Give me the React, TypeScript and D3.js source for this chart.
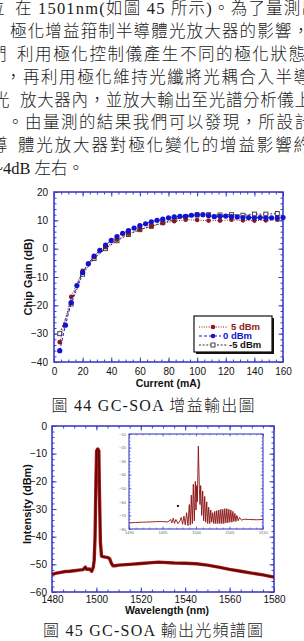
import React, { useEffect, useRef } from 'react';
import * as d3 from 'd3';

// ---- paragraph text (cropped scan of a thesis page) ----
const paraHeads = ['位', '的', '們', '後', '光', '察', '導', ''];
const paraLines = [
  '在 1501nm(如圖 45 所示)。為了量測出',
  '極化增益箝制半導體光放大器的影響，',
  '利用極化控制儀產生不同的極化狀態',
  '，再利用極化維持光纖將光耦合入半導',
  '放大器內，並放大輸出至光譜分析儀上',
  '。由量測的結果我們可以發現，所設計',
  '體光放大器對極化變化的增益影響約',
  '~4dB 左右。',
];
const caption44 = '圖 44 GC-SOA 增益輸出圖';
const caption45 = '圖 45 GC-SOA 輸出光頻譜圖';

// ---- Fig 44: chip gain vs current ----
const current5 = [4, 12, 20, 28, 36, 44, 52, 60, 68, 76, 84, 92, 100, 108, 116, 124, 132, 140, 148, 156];
const gain5 = [-33, -17, -7.8, -3, 0.5, 3.2, 5.3, 6.8, 7.9, 9, 9.7, 10.2, 10.1, 9.9, 9.9, 10.2, 10, 9.9, 10, 10.2];
const gainM5 = [-30, -19.5, -9, -3.5, 0, 2.8, 5, 6.7, 7.9, 9.2, 10.3, 11.3, 11.9, 12, 11.9, 12, 11.8, 12.2, 12.2, 12.4];
const current0 = [4, 8, 12, 16, 20, 24, 28, 32, 36, 40, 44, 48, 52, 56, 60, 64, 68, 72, 76, 80,
  84, 88, 92, 96, 100, 104, 108, 112, 116, 120, 124, 128, 132, 136, 140, 144, 148, 152, 156, 160];
const gain0 = [-36, -27, -19, -13, -8.4, -5.3, -2.6, -0.6, 1.3, 2.9, 4.3, 5.4, 6.4, 7.3, 8.1, 8.8, 9.5, 10, 10.4, 10.9,
  11.2, 11.4, 11.4, 11.8, 12, 12, 11.7, 11.3, 11.4, 11.5, 11.3, 11.2, 11, 11, 10.9, 11, 10.9, 10.9, 10.9, 11];
const gainTicks = [-40, -30, -20, -10, 0, 10, 20];
const currentTicks = [0, 20, 40, 60, 80, 100, 120, 140, 160];
const legendLabels = ['5 dBm', '0 dBm', '-5 dBm'];

// ---- Fig 45: output spectrum ----
const specWl = [1480, 1482, 1484, 1486, 1488, 1490, 1492, 1494, 1495, 1495.6, 1497, 1497.9, 1498.6, 1499, 1499.4,
  1499.8, 1500.1, 1500.6, 1501.1, 1501.4, 1501.8, 1502.3, 1503, 1504, 1505, 1506, 1506.6, 1507.4, 1508.5, 1510,
  1515, 1520, 1525, 1528, 1530, 1535, 1540, 1545, 1550, 1555, 1560, 1565, 1570, 1575, 1580];
const specDb = [-53.6, -53.2, -52.9, -52.6, -52.5, -52.3, -52.1, -51.9, -51, -51.8, -51.7, -52.5, -51, -48.5, -40,
  -20, -9, -8.3, -9, -25, -42, -47, -47.2, -47.4, -47.5, -48, -49.4, -50.5, -50.5, -50.3,
  -50, -49.7, -49.4, -49.2, -49.3, -49.5, -49.6, -49.8, -50.3, -51, -51.8, -52.5, -53.2, -53.8, -54.6];
const specTicksX = [1480, 1500, 1520, 1540, 1560, 1580];
const specTicksY = [-60, -50, -40, -30, -20, -10, 0];

// inset: zoom around the lasing line
const insetWl = [1490, 1491, 1492, 1493, 1494, 1495, 1495.8, 1496.2, 1496.4, 1496.6, 1496.8, 1497, 1497.3, 1497.6,
  1497.8, 1498, 1498.2, 1498.4, 1498.6, 1498.8, 1499, 1499.15, 1499.3, 1499.45, 1499.6, 1499.75, 1499.9, 1500,
  1500.1, 1500.2, 1500.35, 1500.5, 1500.6, 1500.7, 1500.85, 1501, 1501.15, 1501.3, 1501.45, 1501.6, 1501.75,
  1501.9, 1502.05, 1502.2, 1502.35, 1502.5, 1502.65, 1502.8, 1502.95, 1503.1, 1503.25, 1503.4, 1503.55, 1503.7,
  1503.85, 1504, 1504.15, 1504.3, 1504.45, 1504.6, 1504.75, 1504.9, 1505.05, 1505.2, 1505.35, 1505.5, 1505.65,
  1505.8, 1505.95, 1506.1, 1506.3, 1506.5, 1506.8, 1507.2, 1508, 1509, 1510];
const insetDb = [-75.5, -75.2, -75, -74.8, -74.6, -74.5, -74.8, -73, -75.5, -72, -75.8, -73, -76, -74,
  -71.5, -76.5, -70.5, -77, -68, -77.5, -62, -77, -55, -76, -47, -74, -45, -66,
  -48, -60, -19, -50, -62, -48, -70, -52, -74, -56, -75, -60, -76,
  -64, -76, -66, -75, -68, -76, -67, -76, -66.5, -76, -66, -76, -65.5,
  -76, -65.5, -76, -65, -75.5, -65, -75.5, -65.5, -75, -66, -75, -67, -74.5,
  -68.5, -74.5, -70, -74, -71.5, -73.5, -72.8, -73, -73.2, -73];
const insetMark = [[1497.3, -63]];
const insetTicksX = [1490, 1495, 1500, 1505, 1510];
const insetTicksY = [-80, -70, -60, -50, -40, -30, -20, -10];

const AX = '#3d3dc6';
const SANS = "'Liberation Sans', Arial, sans-serif";
const SERIF = "'Liberation Serif', 'Noto Sans CJK TC', serif";

const range = (a, b, s) => d3.range(a, b + s / 2, s);

// box frame with inward ticks on all four sides
function frame(g, x, y, o) {
  const [xl, xr] = x.range();
  const [yb, yt] = y.range();
  const sides = [
    { mk: () => d3.axisBottom(x), tr: `translate(0,${yb})`, ticks: o.xMajor, minor: o.xMinor, lab: true, pad: o.padX },
    { mk: () => d3.axisTop(x), tr: `translate(0,${yt})`, ticks: o.xMajor, minor: o.xMinor, lab: false, pad: 0 },
    { mk: () => d3.axisLeft(y), tr: `translate(${xl},0)`, ticks: o.yMajor, minor: o.yMinor, lab: true, pad: o.padY },
    { mk: () => d3.axisRight(y), tr: `translate(${xr},0)`, ticks: o.yMajor, minor: o.yMinor, lab: false, pad: 0 },
  ];
  sides.forEach(s => {
    const gm = g.append('g').attr('transform', s.tr)
      .call(s.mk().tickValues(s.minor).tickSize(-o.minorLen).tickSizeOuter(0).tickFormat(() => ''));
    gm.select('.domain').remove();
    gm.selectAll('line').attr('stroke', AX).attr('stroke-width', o.tickW);
    const ga = g.append('g').attr('transform', s.tr)
      .call(s.mk().tickValues(s.ticks).tickSize(-o.majorLen).tickSizeOuter(0).tickPadding(s.pad)
        .tickFormat(s.lab ? d3.format('d') : () => ''));
    ga.select('.domain').remove();
    ga.selectAll('line').attr('stroke', AX).attr('stroke-width', o.tickW);
    ga.attr('font-family', SANS).attr('font-size', o.fontSize);
    ga.selectAll('text').attr('fill', o.labelColor);
  });
  g.append('rect')
    .attr('x', xl).attr('y', yt).attr('width', xr - xl).attr('height', yb - yt)
    .attr('fill', 'none').attr('stroke', AX).attr('stroke-width', o.frameW);
}

const App = () => {
  const ref = useRef(null);

  useEffect(() => {
    const svg = d3.select(ref.current);
    svg.selectAll('*').remove();

    // paragraph
    const lineY = [14, 37, 60, 83, 106, 128, 151, 174];
    const bodyX = [15, 10, 17, 5, 20, 7, 18, -6];
    const bodyEnd = [318, 309, 305, 310, 311, 311, 310, null];
    paraLines.forEach((t, i) => {
      if (paraHeads[i]) {
        svg.append('text').attr('x', bodyX[i] - 27).attr('y', lineY[i])
          .attr('font-family', SERIF).attr('font-size', 16.5).attr('font-weight', 300).attr('fill', '#1a1a1a')
          .text(paraHeads[i]);
      }
      const tx = svg.append('text').attr('x', bodyX[i]).attr('y', lineY[i])
        .attr('font-family', SERIF).attr('font-size', 16.5).attr('font-weight', 300).attr('fill', '#1a1a1a')
        .text(t);
      if (bodyEnd[i]) tx.attr('textLength', bodyEnd[i] - bodyX[i]).attr('lengthAdjust', 'spacing');
    });

    // ---------- Fig 44 ----------
    const x1 = d3.scaleLinear().domain([0, 160]).range([54, 283]);
    const y1 = d3.scaleLinear().domain([-40, 20]).range([362, 192]);
    const g1 = svg.append('g');
    frame(g1, x1, y1, {
      xMajor: currentTicks, xMinor: range(0, 160, 5), yMajor: gainTicks, yMinor: range(-40, 20, 2),
      majorLen: 4.5, minorLen: 2.5, tickW: 1, frameW: 1.6, fontSize: 10, labelColor: '#111', padX: 5.5, padY: 6,
    });

    const series = [
      { xs: current5, ys: gainM5, color: '#333', dash: '2,1.6', kind: 'square' },
      { xs: current5, ys: gain5, color: '#8b1a1a', dash: '1,1.4', kind: 'dot' },
      { xs: current0, ys: gain0, color: '#1212d0', dash: '3,2', kind: 'blue' },
    ];
    const line1 = d3.line().x(d => x1(d[0])).y(d => y1(d[1]));
    series.forEach(s => {
      const pts = s.xs.map((c, i) => [c, s.ys[i]]);
      g1.append('path').datum(pts).attr('d', line1).attr('fill', 'none')
        .attr('stroke', s.color).attr('stroke-width', 1).attr('stroke-dasharray', s.dash);
      if (s.kind === 'square') {
        g1.selectAll(null).data(pts).enter().append('rect')
          .attr('x', d => x1(d[0]) - 2).attr('y', d => y1(d[1]) - 2).attr('width', 4).attr('height', 4)
          .attr('fill', 'white').attr('stroke', s.color).attr('stroke-width', 0.9);
      } else {
        g1.selectAll(null).data(pts).enter().append('circle')
          .attr('cx', d => x1(d[0])).attr('cy', d => y1(d[1]))
          .attr('r', s.kind === 'blue' ? 2.6 : 2.3).attr('fill', s.color);
      }
    });

    // legend
    const lg = svg.append('g');
    lg.append('rect').attr('x', 196).attr('y', 318).attr('width', 78).attr('height', 36).attr('fill', '#111');
    lg.append('rect').attr('x', 194).attr('y', 316).attr('width', 78).attr('height', 36)
      .attr('fill', 'white').attr('stroke', '#111').attr('stroke-width', 1.2);
    const legendStyle = [series[1], series[2], series[0]];
    const legendTextX = [231, 223, 229];
    legendLabels.forEach((lab, i) => {
      const s = legendStyle[i];
      const ly = 327 + i * 9;
      lg.append('line').attr('x1', 199).attr('x2', i === 1 ? 221 : 228).attr('y1', ly).attr('y2', ly)
        .attr('stroke', s.color).attr('stroke-width', 1).attr('stroke-dasharray', s.dash);
      if (s.kind === 'square') {
        lg.append('rect').attr('x', 211).attr('y', ly - 2).attr('width', 4).attr('height', 4)
          .attr('fill', 'white').attr('stroke', s.color).attr('stroke-width', 0.9);
      } else {
        lg.append('circle').attr('cx', 213).attr('cy', ly).attr('r', 2.3).attr('fill', s.color);
      }
      lg.append('text').attr('x', legendTextX[i]).attr('y', ly + 3.4)
        .attr('font-family', SANS).attr('font-weight', 'bold').attr('font-size', 9.5)
        .attr('fill', s.kind === 'square' ? '#111' : s.color).text(lab);
    });

    svg.append('text').attr('transform', 'translate(32,277) rotate(-90)').attr('text-anchor', 'middle')
      .attr('font-family', SANS).attr('font-weight', 'bold').attr('font-size', 11).attr('fill', '#111')
      .text('Chip Gain (dB)');
    svg.append('text').attr('x', 168).attr('y', 387).attr('text-anchor', 'middle')
      .attr('font-family', SANS).attr('font-weight', 'bold').attr('font-size', 10.5).attr('fill', '#111')
      .text('Current (mA)');

    svg.append('text').attr('x', 153).attr('y', 411).attr('text-anchor', 'middle')
      .attr('font-family', SERIF).attr('font-size', 16).attr('font-weight', 300).attr('fill', '#1a1a1a')
      .attr('textLength', 203).attr('lengthAdjust', 'spacing').text(caption44);

    // ---------- Fig 45 ----------
    const x2 = d3.scaleLinear().domain([1480, 1580]).range([52, 274]);
    const y2 = d3.scaleLinear().domain([-60, 0]).range([592, 426]);
    const g2 = svg.append('g');
    frame(g2, x2, y2, {
      xMajor: specTicksX, xMinor: range(1480, 1580, 5), yMajor: specTicksY, yMinor: range(-60, 0, 2),
      majorLen: 4.5, minorLen: 2.5, tickW: 1, frameW: 1.6, fontSize: 10, labelColor: '#111', padX: 3.5, padY: 5,
    });
    const spec = specWl.map((w, i) => [w, specDb[i]]);
    const line2 = d3.line().x(d => x2(d[0])).y(d => y2(d[1]));
    g2.append('path').datum(spec).attr('d', line2).attr('fill', 'none')
      .attr('stroke', '#b32020').attr('stroke-width', 3.4).attr('stroke-linejoin', 'round');
    g2.append('path').datum(spec).attr('d', line2).attr('fill', 'none')
      .attr('stroke', '#650707').attr('stroke-width', 1.8).attr('stroke-linejoin', 'round');

    // inset
    const xi = d3.scaleLinear().domain([1490, 1510]).range([129, 263]);
    const yi = d3.scaleLinear().domain([-80, -10]).range([529, 434]);
    const gi = svg.append('g');
    gi.append('rect').attr('x', 129).attr('y', 434).attr('width', 134).attr('height', 95).attr('fill', 'white');
    frame(gi, xi, yi, {
      xMajor: insetTicksX, xMinor: range(1490, 1510, 1), yMajor: insetTicksY, yMinor: range(-80, -10, 2.5),
      majorLen: 2.5, minorLen: 1.5, tickW: 0.6, frameW: 1.1, fontSize: 4, labelColor: '#666', padX: 2, padY: 3,
    });
    const ins = insetWl.map((w, i) => [w, insetDb[i]]);
    const linei = d3.line().x(d => xi(d[0])).y(d => yi(d[1]));
    gi.append('path').datum(ins).attr('d', linei).attr('fill', 'none')
      .attr('stroke', '#8a1010').attr('stroke-width', 0.9).attr('stroke-linejoin', 'round');
    gi.selectAll(null).data(insetMark).enter().append('rect')
      .attr('x', d => xi(d[0]) - 1).attr('y', d => yi(d[1]) - 1).attr('width', 2).attr('height', 2).attr('fill', '#111');

    svg.append('text').attr('transform', 'translate(31,504) rotate(-90)').attr('text-anchor', 'middle')
      .attr('font-family', SANS).attr('font-weight', 'bold').attr('font-size', 11).attr('fill', '#111')
      .text('Intensity (dBm)');
    svg.append('text').attr('x', 167).attr('y', 614).attr('text-anchor', 'middle')
      .attr('font-family', SANS).attr('font-weight', 'bold').attr('font-size', 10.5).attr('fill', '#111')
      .text('Wavelength (nm)');

    svg.append('text').attr('x', 153).attr('y', 636).attr('text-anchor', 'middle')
      .attr('font-family', SERIF).attr('font-size', 16).attr('font-weight', 300).attr('fill', '#1a1a1a')
      .attr('textLength', 220).attr('lengthAdjust', 'spacing').text(caption45);
  }, []);

  return (
    <svg ref={ref} width={304} height={641}
      style={{ position: 'absolute', left: 0, top: 0, background: 'white' }} />
  );
};

export default App;
